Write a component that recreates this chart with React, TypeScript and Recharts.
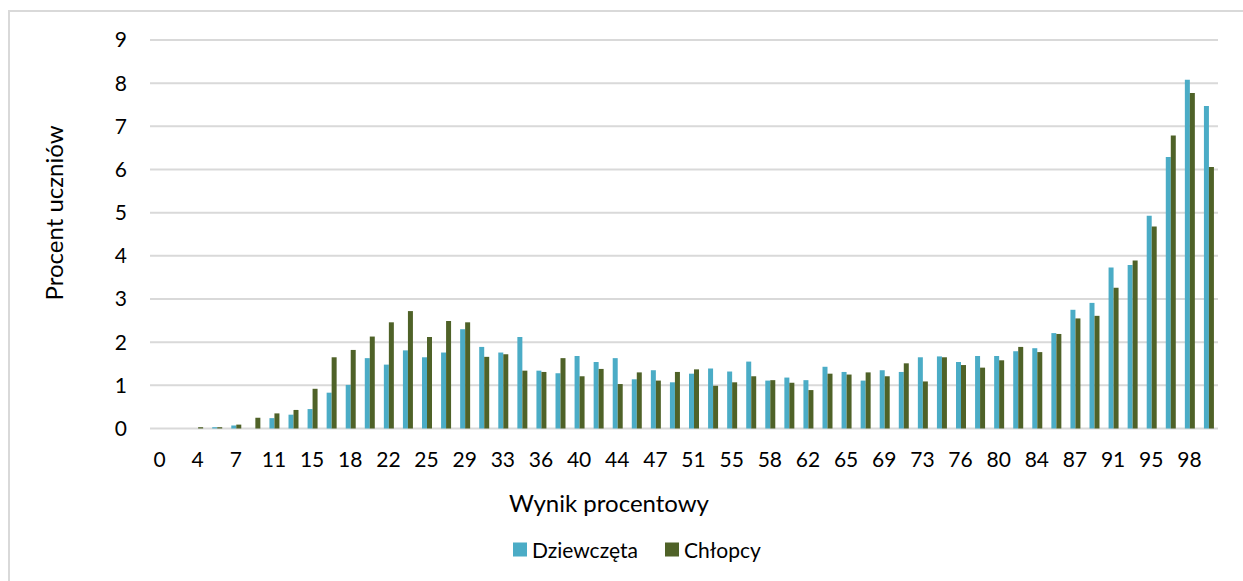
import { Bar, BarChart, CartesianGrid, XAxis, YAxis } from "recharts";

// Wynik procentowy (0..55 pkt przeliczone na %)
const categories = [
  0, 2, 4, 5, 7, 9, 11, 13, 15, 16, 18, 20, 22, 24, 25, 27, 29, 31, 33, 35, 36,
  38, 40, 42, 44, 45, 47, 49, 51, 53, 55, 56, 58, 60, 62, 64, 65, 67, 69, 71, 73,
  75, 76, 78, 80, 82, 84, 85, 87, 89, 91, 93, 95, 96, 98, 100,
];

const girls = [
  0, 0, 0, 0.03, 0.07, 0, 0.24, 0.32, 0.45, 0.83, 1.01, 1.63, 1.48, 1.81, 1.65,
  1.76, 2.3, 1.89, 1.76, 2.12, 1.34, 1.28, 1.68, 1.54, 1.63, 1.14, 1.35, 1.07,
  1.27, 1.39, 1.32, 1.55, 1.11, 1.18, 1.12, 1.43, 1.31, 1.11, 1.35, 1.31, 1.65,
  1.67, 1.54, 1.68, 1.68, 1.79, 1.86, 2.21, 2.75, 2.91, 3.73, 3.79, 4.93, 6.29,
  8.08, 7.47,
];

const boys = [
  0, 0, 0.03, 0.03, 0.09, 0.25, 0.35, 0.43, 0.92, 1.65, 1.82, 2.13, 2.46, 2.72,
  2.12, 2.49, 2.46, 1.66, 1.72, 1.34, 1.31, 1.63, 1.21, 1.38, 1.03, 1.3, 1.11,
  1.31, 1.37, 0.99, 1.07, 1.21, 1.12, 1.06, 0.89, 1.27, 1.25, 1.3, 1.21, 1.51,
  1.09, 1.65, 1.47, 1.41, 1.58, 1.89, 1.77, 2.19, 2.55, 2.61, 3.26, 3.89, 4.68,
  6.79, 7.77, 6.06,
];

const yTicks = [0, 1, 2, 3, 4, 5, 6, 7, 8, 9];

const BLUE = "#4BACC6";
const GREEN = "#4F6228";
const GRID = "#d9d9d9";

const data = categories.map((c, i) => ({
  name: String(c),
  girls: girls[i],
  boys: boys[i],
}));

export default function App() {
  const tickStyle = { fontSize: 21, fill: "#000" };

  return (
    <div
      style={{
        position: "absolute",
        left: 0,
        top: 0,
        width: 1243,
        height: 581,
        overflow: "hidden",
        background: "#fff",
        fontFamily: "Lato, 'Open Sans', sans-serif",
        color: "#000",
      }}
    >
      {/* chart area border */}
      <div
        style={{
          position: "absolute",
          left: 8,
          top: 10,
          width: 1250,
          height: 590,
          border: `2px solid ${GRID}`,
        }}
      />

      <BarChart
        width={1243}
        height={581}
        data={data}
        margin={{ top: 40, right: 25, left: 110, bottom: 122.5 }}
        barSize={5}
        barGap={0}
        style={{ position: "absolute", left: 0, top: 0 }}
      >
        <CartesianGrid vertical={false} stroke={GRID} strokeWidth={2} />
        <XAxis
          dataKey="name"
          interval={1}
          tickLine={false}
          axisLine={false}
          tick={tickStyle}
          tickMargin={17.5}
          height={30}
        />
        <YAxis
          domain={[0, 9]}
          ticks={yTicks}
          tickLine={false}
          axisLine={false}
          tick={tickStyle}
          tickMargin={17}
          width={40}
        />
        <Bar dataKey="girls" name="Dziewczęta" fill={BLUE} isAnimationActive={false} />
        <Bar dataKey="boys" name="Chłopcy" fill={GREEN} isAnimationActive={false} />
      </BarChart>

      {/* axis titles */}
      <div
        style={{
          position: "absolute",
          left: 54,
          top: 213,
          transform: "translate(-50%, -50%) rotate(-90deg)",
          fontSize: 24,
          lineHeight: 1,
          whiteSpace: "nowrap",
        }}
      >
        Procent uczniów
      </div>
      <div
        style={{
          position: "absolute",
          left: 609,
          top: 490.5,
          transform: "translateX(-50%)",
          fontSize: 24,
          lineHeight: 1,
          whiteSpace: "nowrap",
        }}
      >
        Wynik procentowy
      </div>

      {/* legend */}
      {[
        { label: "Dziewczęta", color: BLUE, left: 513 },
        { label: "Chłopcy", color: GREEN, left: 665 },
      ].map((item) => (
        <div
          key={item.label}
          style={{
            position: "absolute",
            left: item.left,
            top: 549,
            transform: "translateY(-50%)",
            display: "flex",
            alignItems: "center",
            fontSize: 21,
            lineHeight: 1,
            whiteSpace: "nowrap",
          }}
        >
          <span
            style={{
              width: 14,
              height: 14,
              background: item.color,
              marginRight: 5,
              display: "inline-block",
            }}
          />
          {item.label}
        </div>
      ))}
    </div>
  );
}
